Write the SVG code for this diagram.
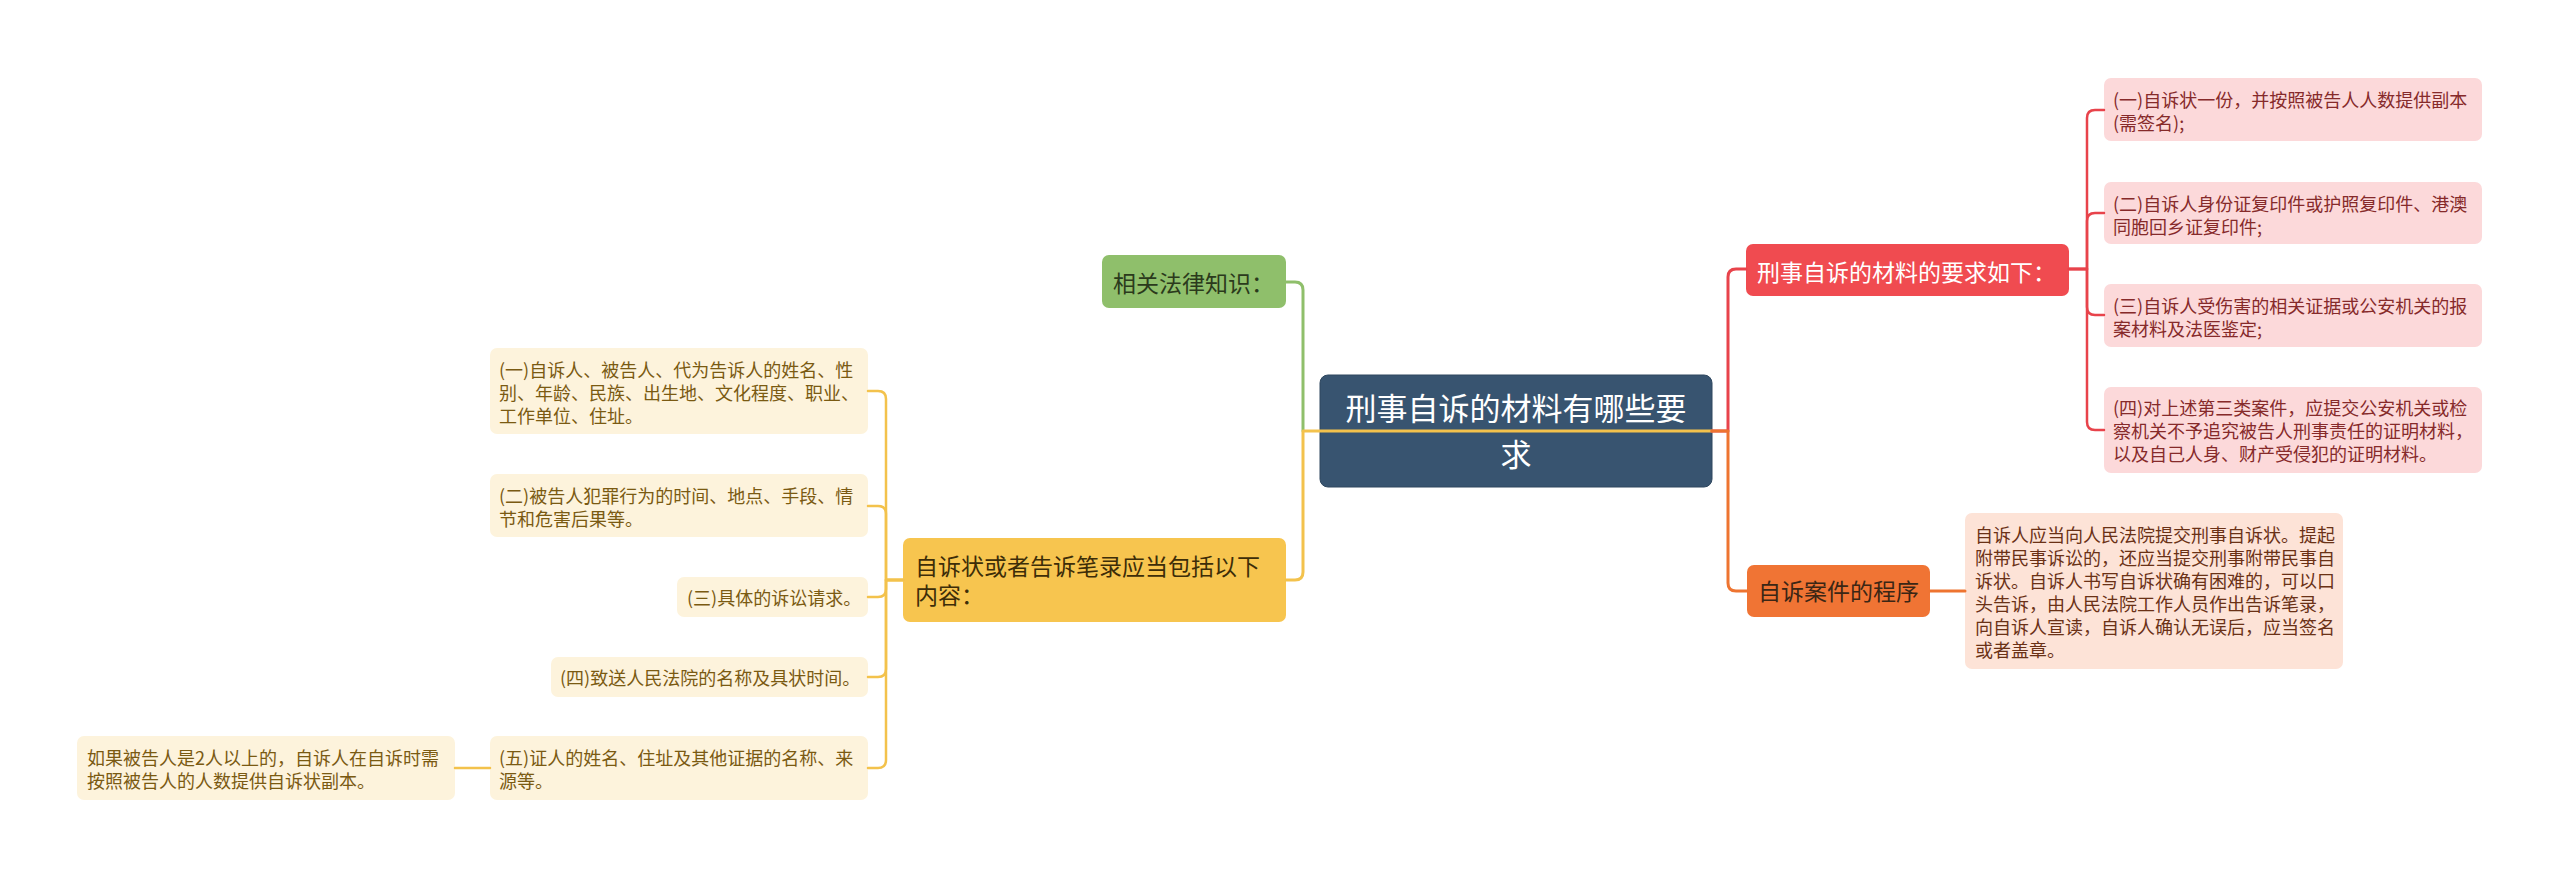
<svg xmlns="http://www.w3.org/2000/svg" width="2560" height="879" viewBox="0 0 2560 879">
<style>
text{font-family:"Noto Sans CJK SC","Noto Sans",sans-serif}
.root-box{fill:#385470;stroke:#2e475f;stroke-width:1}
.root-t{fill:#ffffff;font-size:31px}
.l2t{font-size:23px}
.leaf-t{font-size:18px}
.y-leaf{fill:#fdf3dc}
.y-t{fill:#7a5a12}
.r-leaf{fill:#fcd9da}
.r-t{fill:#862a2a}
.o-leaf{fill:#fde3d7}
.o-t{fill:#6a3116}
.c{fill:none;stroke-linecap:round;stroke-linejoin:round}
.cg{stroke:#8fbf6b;stroke-width:3}
.cy{stroke:#f3c24c;stroke-width:3}
.cr{stroke:#e8434b;stroke-width:3}
.co{stroke:#ee7430;stroke-width:3}
.cyl{stroke:#f3c24c;stroke-width:2.5}
.crl{stroke:#e8434b;stroke-width:2.5}
</style>
<rect width="2560" height="879" fill="#ffffff"/>

<g id="root">
<rect class="root-box" x="1320" y="375" width="392" height="112" rx="8"/>
<text class="root-t" x="1516" y="420" text-anchor="middle">刑事自诉的材料有哪些要</text>
<text class="root-t" x="1516" y="466" text-anchor="middle">求</text>
</g>

<g id="node-knowledge">
<rect x="1102" y="255" width="184" height="53" rx="7" fill="#8fbf6b"/>
<text class="l2t" x="1113" y="292" fill="#2b3a1c">相关法律知识：</text>
</g>

<g id="node-contents">
<rect x="903" y="538" width="383" height="84" rx="7" fill="#f7c54f"/>
<text class="l2t" x="915" y="575" fill="#3d2d08">自诉状或者告诉笔录应当包括以下</text>
<text class="l2t" x="915" y="604" fill="#3d2d08">内容：</text>
</g>

<g id="node-materials">
<rect x="1746" y="244" width="323" height="52" rx="7" fill="#f04b50"/>
<text class="l2t" x="1757" y="281" fill="#ffffff">刑事自诉的材料的要求如下：</text>
</g>

<g id="node-procedure">
<rect x="1747" y="565" width="183" height="52" rx="7" fill="#f07434"/>
<text class="l2t" x="1758" y="600" fill="#3b2615">自诉案件的程序</text>
</g>

<g id="leaf-y1">
<rect class="y-leaf" x="490" y="348" width="378" height="86" rx="7"/>
<text class="leaf-t y-t" x="499" y="377">(一)自诉人、被告人、代为告诉人的姓名、性</text>
<text class="leaf-t y-t" x="499" y="400">别、年龄、民族、出生地、文化程度、职业、</text>
<text class="leaf-t y-t" x="499" y="423">工作单位、住址。</text>
</g>

<g id="leaf-y2">
<rect class="y-leaf" x="490" y="474" width="378" height="63" rx="7"/>
<text class="leaf-t y-t" x="499" y="503">(二)被告人犯罪行为的时间、地点、手段、情</text>
<text class="leaf-t y-t" x="499" y="526">节和危害后果等。</text>
</g>

<g id="leaf-y3">
<rect class="y-leaf" x="677" y="577" width="191" height="40" rx="7"/>
<text class="leaf-t y-t" x="687" y="605">(三)具体的诉讼请求。</text>
</g>

<g id="leaf-y4">
<rect class="y-leaf" x="551" y="657" width="317" height="40" rx="7"/>
<text class="leaf-t y-t" x="560" y="685">(四)致送人民法院的名称及具状时间。</text>
</g>

<g id="leaf-y5">
<rect class="y-leaf" x="490" y="736" width="378" height="64" rx="7"/>
<text class="leaf-t y-t" x="499" y="765">(五)证人的姓名、住址及其他证据的名称、来</text>
<text class="leaf-t y-t" x="499" y="788">源等。</text>
</g>

<g id="leaf-y5-note">
<rect class="y-leaf" x="77" y="736" width="378" height="64" rx="7"/>
<text class="leaf-t y-t" x="87" y="765">如果被告人是2人以上的，自诉人在自诉时需</text>
<text class="leaf-t y-t" x="87" y="788">按照被告人的人数提供自诉状副本。</text>
</g>

<g id="leaf-r1">
<rect class="r-leaf" x="2104" y="78" width="378" height="63" rx="7"/>
<text class="leaf-t r-t" x="2113" y="107">(一)自诉状一份，并按照被告人人数提供副本</text>
<text class="leaf-t r-t" x="2113" y="130">(需签名);</text>
</g>

<g id="leaf-r2">
<rect class="r-leaf" x="2104" y="182" width="378" height="62" rx="7"/>
<text class="leaf-t r-t" x="2113" y="211">(二)自诉人身份证复印件或护照复印件、港澳</text>
<text class="leaf-t r-t" x="2113" y="234">同胞回乡证复印件;</text>
</g>

<g id="leaf-r3">
<rect class="r-leaf" x="2104" y="284" width="378" height="63" rx="7"/>
<text class="leaf-t r-t" x="2113" y="313">(三)自诉人受伤害的相关证据或公安机关的报</text>
<text class="leaf-t r-t" x="2113" y="336">案材料及法医鉴定;</text>
</g>

<g id="leaf-r4">
<rect class="r-leaf" x="2104" y="387" width="378" height="86" rx="7"/>
<text class="leaf-t r-t" x="2113" y="415">(四)对上述第三类案件，应提交公安机关或检</text>
<text class="leaf-t r-t" x="2113" y="438">察机关不予追究被告人刑事责任的证明材料，</text>
<text class="leaf-t r-t" x="2113" y="461">以及自己人身、财产受侵犯的证明材料。</text>
</g>

<g id="leaf-o1">
<rect class="o-leaf" x="1965" y="513" width="378" height="156" rx="7"/>
<text class="leaf-t o-t" x="1975" y="542">自诉人应当向人民法院提交刑事自诉状。提起</text>
<text class="leaf-t o-t" x="1975" y="565">附带民事诉讼的，还应当提交刑事附带民事自</text>
<text class="leaf-t o-t" x="1975" y="588">诉状。自诉人书写自诉状确有困难的，可以口</text>
<text class="leaf-t o-t" x="1975" y="611">头告诉，由人民法院工作人员作出告诉笔录，</text>
<text class="leaf-t o-t" x="1975" y="634">向自诉人宣读，自诉人确认无误后，应当签名</text>
<text class="leaf-t o-t" x="1975" y="657">或者盖章。</text>
</g>

<g id="connectors">
<path class="c cg" d="M1303,431 V290 Q1303,282 1295,282 H1286"/>
<path class="c cy" d="M1712,431 H1303 V572 Q1303,580 1295,580 H1286"/>
<path class="c cr" d="M1712,431 H1728 V277 Q1728,269 1736,269 H1746"/>
<path class="c co" d="M1712,431 H1728 V583 Q1728,591 1736,591 H1747"/>
<path class="c co" d="M1930,591 H1965"/>

<path class="c crl" d="M2069,269 H2087 V118 Q2087,110 2095,110 H2104"/>
<path class="c crl" d="M2069,269 H2087 V221 Q2087,213 2095,213 H2104"/>
<path class="c crl" d="M2069,269 H2087 V307 Q2087,315 2095,315 H2104"/>
<path class="c crl" d="M2069,269 H2087 V422 Q2087,430 2095,430 H2104"/>

<path class="c cyl" d="M903,580 H886 V399 Q886,391 878,391 H868"/>
<path class="c cyl" d="M903,580 H886 V514 Q886,506 878,506 H868"/>
<path class="c cyl" d="M903,580 H886 V589 Q886,597 878,597 H868"/>
<path class="c cyl" d="M903,580 H886 V669 Q886,677 878,677 H868"/>
<path class="c cyl" d="M903,580 H886 V760 Q886,768 878,768 H868"/>
<path class="c cyl" d="M490,768 H455"/>
</g>
</svg>
